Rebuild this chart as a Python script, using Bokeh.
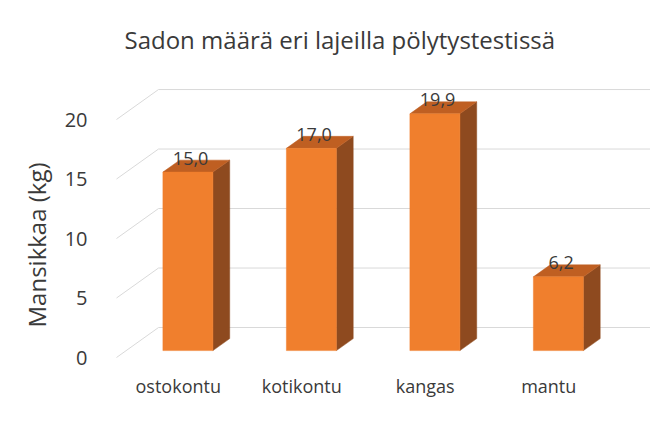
from bokeh.plotting import figure
from bokeh.models import FixedTicker, Range1d, ColumnDataSource, Title
from bokeh.embed import file_html
from bokeh.resources import INLINE
from bokeh.core.properties import value

# ---- data ----
categories = ["ostokontu", "kotikontu", "kangas", "mantu"]
yields = [15.0, 17.0, 19.9, 6.2]
value_labels = ["15,0", "17,0", "19,9", "6,2"]
y_ticks = [0, 5, 10, 15, 20]

# ---- 3D look (style) ----
DX = 0.34   # full depth offset along x (category units)
DY = 2.52   # full depth offset along y (kg units)
F0 = 0.23   # depth where bar front face sits
BD = 0.40   # bar depth (fraction of full depth)
BW = 0.405  # bar width (category units)
FRONT = "#F07F2D"
SIDE = "#8E4A1F"
TOP = "#BF5F22"
TXT = "#3a3a3a"
FONT = "Open Sans"

p = figure(width=650, height=422, output_backend="svg", toolbar_location=None,
           x_range=Range1d(-0.1296, 4.324), y_range=Range1d(-0.42, 23.70),
           min_border_left=100, min_border_right=0, min_border_top=75, min_border_bottom=60)
p.outline_line_color = None
p.grid.visible = False

# walls / gridlines
n = len(categories)
gx = [[0, DX, n + 1.0] for v in y_ticks]
gy = [[v, v + DY, v + DY] for v in y_ticks]
p.multi_line(xs=gx, ys=gy, line_color="#D9D9D9", line_width=1)

# bars
centers = [i + 0.5 for i in range(n)]
left = [c - BW / 2 + F0 * DX for c in centers]
right = [l + BW for l in left]
bottom = [F0 * DY for _ in centers]
top = [v + F0 * DY for v in yields]
ddx, ddy = BD * DX, BD * DY
side_xs = [[r, r + ddx, r + ddx, r] for r in right]
side_ys = [[b, b + ddy, t + ddy, t] for b, t in zip(bottom, top)]
top_xs = [[l, r, r + ddx, l + ddx] for l, r in zip(left, right)]
top_ys = [[t, t, t + ddy, t + ddy] for t in top]
p.patches(xs=side_xs, ys=side_ys, fill_color=SIDE, line_color=SIDE, line_width=0.5)
p.patches(xs=top_xs, ys=top_ys, fill_color=TOP, line_color=TOP, line_width=0.5)
p.quad(left=left, right=right, bottom=bottom, top=top, fill_color=FRONT, line_color=FRONT, line_width=0.5)

# value labels
src = ColumnDataSource(dict(x=[c + 0.1 for c in centers], y=[v + 1.75 for v in yields], t=value_labels))
p.text(x="x", y="y", text="t", source=src, text_align="center", text_baseline="alphabetic",
       text_font=value(FONT), text_font_size="18px", text_color=TXT)

# axes
ya = p.yaxis[0]
ya.ticker = FixedTicker(ticks=y_ticks)
ya.axis_line_color = None
ya.major_tick_line_color = None
ya.minor_tick_line_color = None
ya.major_label_text_font = FONT
ya.major_label_text_font_size = "20px"
ya.major_label_text_color = TXT
ya.major_label_standoff = 7

# y axis title as a left-side title (lets it sit lower than the frame centre)
p.add_layout(Title(text="Mansikkaa (kg)", align="left", offset=35, standoff=18,
                   text_font=FONT, text_font_size="24px", text_font_style="normal",
                   text_color=TXT), "left")

xa = p.xaxis[0]
xa.ticker = FixedTicker(ticks=centers)
xa.major_label_overrides = {c: name for c, name in zip(centers, categories)}
xa.axis_line_color = None
xa.major_tick_line_color = None
xa.minor_tick_line_color = None
xa.major_label_text_font = FONT
xa.major_label_text_font_size = "18px"
xa.major_label_text_color = TXT
xa.major_label_standoff = 5

p.title.text = "Sadon määrä eri lajeilla pölytystestissä"
p.title.text_font = FONT
p.title.text_font_size = "24px"
p.title.text_font_style = "normal"
p.title.text_color = TXT
p.title.align = "left"
p.title.offset = 24
p.title.standoff = 40

open("out.html", "w").write(file_html(p, INLINE))
